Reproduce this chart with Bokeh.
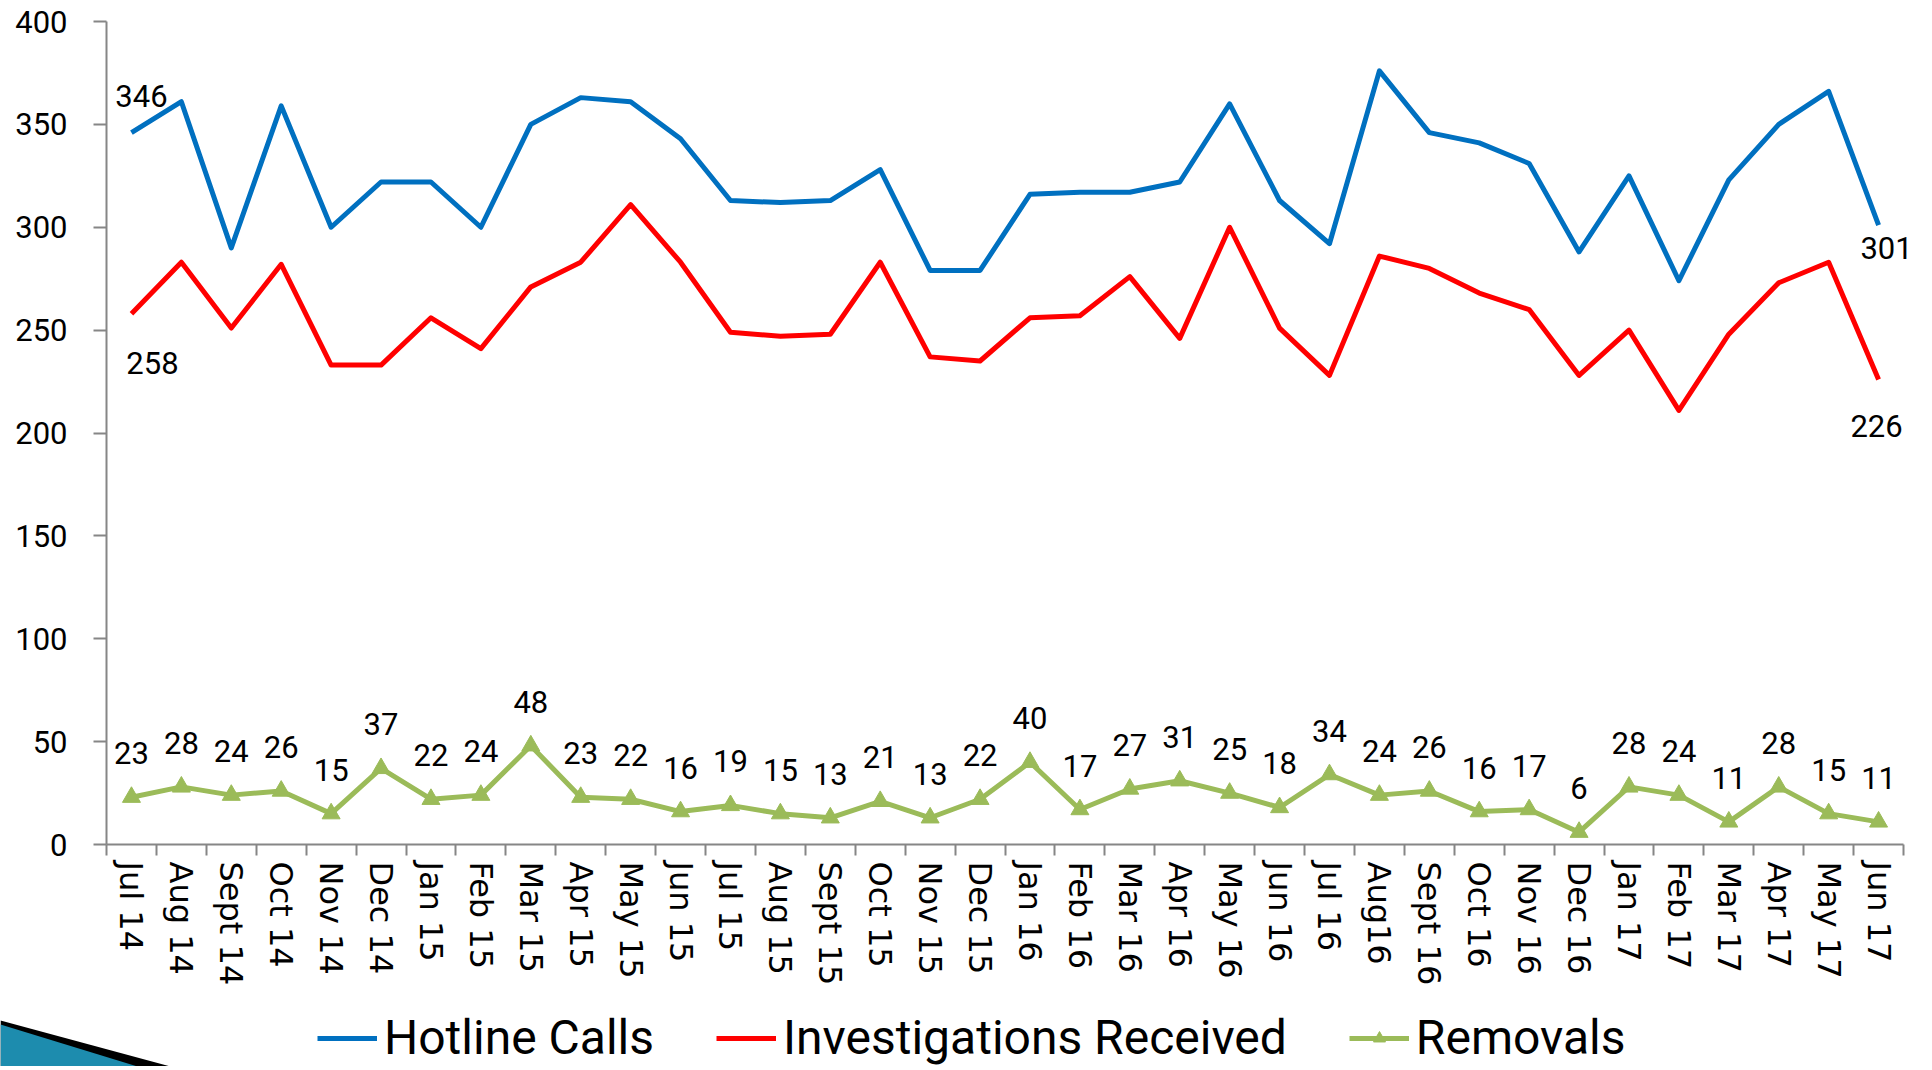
from bokeh.plotting import figure
from bokeh.layouts import column
from bokeh.models import (ColumnDataSource, Range1d, FixedTicker, CustomJSTickFormatter,
                          LabelSet, Legend, LegendItem, PolyAnnotation)
from bokeh.core.properties import value
from bokeh.embed import file_html
from bokeh.resources import INLINE

months = ["Jul 14", "Aug 14", "Sept 14", "Oct 14", "Nov 14", "Dec 14",
          "Jan 15", "Feb 15", "Mar 15", "Apr 15", "May 15", "Jun 15",
          "Jul 15", "Aug 15", "Sept 15", "Oct 15", "Nov 15", "Dec 15",
          "Jan 16", "Feb 16", "Mar 16", "Apr 16", "May 16", "Jun 16",
          "Jul 16", "Aug16", "Sept 16", "Oct 16", "Nov 16", "Dec 16",
          "Jan 17", "Feb 17", "Mar 17", "Apr 17", "May 17", "Jun 17"]

hotline_calls = [346, 361, 290, 359, 300, 322, 322, 300, 350, 363, 361, 343,
                 313, 312, 313, 328, 279, 279, 316, 317, 317, 322, 360, 313,
                 292, 376, 346, 341, 331, 288, 325, 274, 323, 350, 366, 301]

investigations_received = [258, 283, 251, 282, 233, 233, 256, 241, 271, 283, 311, 283,
                           249, 247, 248, 283, 237, 235, 256, 257, 276, 246, 300, 251,
                           228, 286, 280, 268, 260, 228, 250, 211, 248, 273, 283, 226]

removals = [23, 28, 24, 26, 15, 37, 22, 24, 48, 23, 22, 16,
            19, 15, 13, 21, 13, 22, 40, 17, 27, 31, 25, 18,
            34, 24, 26, 16, 17, 6, 28, 24, 11, 28, 15, 11]

series_names = ["Hotline Calls", "Investigations Received", "Removals"]
y_ticks = [0, 50, 100, 150, 200, 250, 300, 350, 400]

BLUE = "#0070C0"
RED = "#FF0000"
GREEN = "#9BBB59"
AXIS = "#868686"
LABEL_FONT = "Roboto"

n = len(months)
xc = [i + 0.5 for i in range(n)]

src = ColumnDataSource(dict(
    x=xc, hot=hotline_calls, inv=investigations_received, rem=removals,
    rem_txt=[str(v) for v in removals],
))

W = 1926
EXTRA = 0.4  # room to the right of the last category for its end labels
p = figure(width=W, height=1000, output_backend="svg", toolbar_location=None,
           x_range=Range1d(0, n + EXTRA), y_range=Range1d(y_ticks[0], y_ticks[-1]),
           min_border_left=106, min_border_right=3, min_border_top=21,
           min_border_bottom=156)
p.outline_line_color = None
p.grid.visible = False
p.background_fill_color = "white"
p.border_fill_color = "white"

# y axis
ya = p.yaxis[0]
ya.ticker = FixedTicker(ticks=y_ticks, minor_ticks=[])
ya.axis_line_color = AXIS
ya.axis_line_width = 2
ya.major_tick_line_color = AXIS
ya.major_tick_line_width = 2
ya.major_tick_out = 13
ya.major_tick_in = 0
ya.minor_tick_line_color = None
ya.major_label_text_font = LABEL_FONT
ya.major_label_text_font_size = "31px"
ya.major_label_text_color = "black"
ya.major_label_standoff = 26

# x axis: labels at category centres, tick marks on category boundaries
xa = p.xaxis[0]
xa.bounds = (0, n)
xa.ticker = FixedTicker(ticks=xc, minor_ticks=list(range(n + 1)))
xa.formatter = CustomJSTickFormatter(args=dict(labels=months),
                                     code="return labels[Math.floor(tick)];")
xa.axis_line_color = AXIS
xa.axis_line_width = 2
xa.major_tick_line_color = None
xa.major_tick_out = 0
xa.major_tick_in = 0
xa.minor_tick_line_color = AXIS
xa.minor_tick_line_width = 2
xa.minor_tick_out = 11
xa.minor_tick_in = 0
xa.major_label_orientation = "vertical"
xa.major_label_text_font = "DejaVu Sans"
xa.major_label_text_font_size = "32px"
xa.major_label_text_color = "black"
xa.major_label_standoff = 6

p.line("x", "hot", source=src, line_color=BLUE, line_width=5, line_join="round")
p.line("x", "inv", source=src, line_color=RED, line_width=5, line_join="round")
p.line("x", "rem", source=src, line_color=GREEN, line_width=5, line_join="round")
p.scatter("x", "rem", source=src, marker="triangle", size=18,
          fill_color=GREEN, line_color=GREEN)

# data labels
p.add_layout(LabelSet(x="x", y="rem", text="rem_txt", source=src, text_align="center",
                      text_baseline="middle", y_offset=44, text_font=value(LABEL_FONT),
                      text_font_size=value("31px"), text_color="black"))

def end_label(x, y, dx, dy):
    s = ColumnDataSource(dict(x=[x], y=[y], t=[str(y)]))
    p.add_layout(LabelSet(x="x", y="y", text="t", source=s, text_align="center",
                          text_baseline="middle", x_offset=dx, y_offset=dy,
                          text_font=value(LABEL_FONT), text_font_size=value("31px"),
                          text_color="black"))

end_label(xc[0], hotline_calls[0], 10, 37)
end_label(xc[-1], hotline_calls[-1], 8, -23)
end_label(xc[0], investigations_received[0], 21, -49)
end_label(xc[-1], investigations_received[-1], -2, -46)

# legend strip underneath the chart (series drawn out of view, only the legend shows)
pl = figure(width=W, height=66, output_backend="svg", toolbar_location=None,
            x_range=Range1d(0, 1), y_range=Range1d(-2000, -1000),
            x_axis_type=None, y_axis_type=None, min_border=0)
pl.outline_line_color = None
pl.grid.visible = False
frame_free = "frame_align" in pl.properties()
if frame_free:
    pl.frame_align = False
l_hot = pl.line("x", "hot", source=src, line_color=BLUE, line_width=5)
l_inv = pl.line("x", "inv", source=src, line_color=RED, line_width=5)
l_rem = pl.line("x", "rem", source=src, line_color=GREEN, line_width=5)
l_rem_m = pl.scatter("x", "rem", source=src, marker="triangle", size=18,
                     fill_color=GREEN, line_color=GREEN)

legend = Legend(items=[
    LegendItem(label=series_names[0], renderers=[l_hot]),
    LegendItem(label=series_names[1], renderers=[l_inv]),
    LegendItem(label=series_names[2], renderers=[l_rem, l_rem_m]),
], location=(317 if frame_free else 211, 0), orientation="horizontal")
legend.glyph_width = 60
legend.glyph_height = 30
legend.label_standoff = 7
legend.spacing = 62
legend.padding = 0
legend.margin = 0
legend.label_text_font = LABEL_FONT
legend.label_text_font_size = "48px"
legend.label_text_color = "black"
legend.background_fill_alpha = 0
legend.border_line_alpha = 0
pl.add_layout(legend)

# slide ornament in the lower-left corner
pl.add_layout(PolyAnnotation(xs=[0, 170, 0], ys=[20, 66, 66], xs_units="canvas",
                             ys_units="canvas", fill_color="black", fill_alpha=1,
                             line_color=None))
pl.add_layout(PolyAnnotation(xs=[0, 137, 0], ys=[24, 66, 66], xs_units="canvas",
                             ys_units="canvas", fill_color="#1D8CAE", fill_alpha=1,
                             line_color=None))

layout = column(p, pl, spacing=0)
open("out.html", "w").write(file_html(layout, INLINE))
